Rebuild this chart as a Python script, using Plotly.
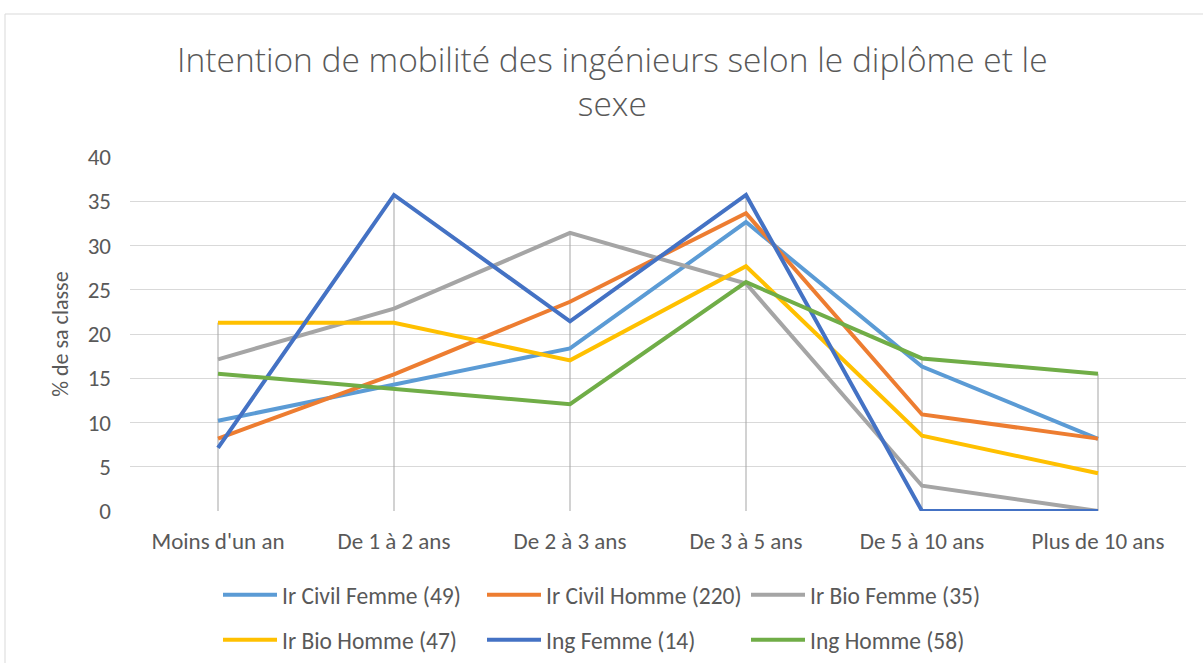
import plotly.graph_objects as go

# Categories (duration of intended mobility)
categories = ["Moins d'un an", "De 1 à 2 ans", "De 2 à 3 ans",
              "De 3 à 5 ans", "De 5 à 10 ans", "Plus de 10 ans"]

# Share of each group (% of its class)
ir_civil_femme = [10.20, 14.29, 18.37, 32.65, 16.33, 8.16]
ir_civil_homme = [8.18, 15.45, 23.64, 33.64, 10.91, 8.18]
ir_bio_femme = [17.14, 22.86, 31.43, 25.71, 2.86, 0.0]
ir_bio_homme = [21.28, 21.28, 17.02, 27.66, 8.51, 4.26]
ing_femme = [7.14, 35.71, 21.43, 35.71, 0.0, 0.0]
ing_homme = [15.52, 13.79, 12.07, 25.86, 17.24, 15.52]

series_names = ["Ir Civil Femme (49)", "Ir Civil Homme (220)", "Ir Bio Femme (35)",
                "Ir Bio Homme (47)", "Ing Femme (14)", "Ing Homme (58)"]
series_values = [ir_civil_femme, ir_civil_homme, ir_bio_femme,
                 ir_bio_homme, ing_femme, ing_homme]
series_colors = ["#5B9BD5", "#ED7D31", "#A5A5A5", "#FFC000", "#4472C4", "#70AD47"]

FONT = "Carlito, 'Liberation Sans Narrow', 'Open Sans', sans-serif"
TEXT = "#595959"

fig = go.Figure()

# Drop lines: from the axis up to the highest value of each category
drop_x, drop_y = [], []
for i, cat in enumerate(categories):
    top = max(vals[i] for vals in series_values)
    drop_x += [cat, cat, None]
    drop_y += [0, top, None]
fig.add_trace(go.Scatter(x=drop_x, y=drop_y, mode="lines",
                         line=dict(color="#A5A5A5", width=1),
                         showlegend=False, hoverinfo="skip"))

for k, (name, vals, col) in enumerate(zip(series_names, series_values, series_colors)):
    fig.add_trace(go.Scatter(
        x=categories, y=vals, name=name, mode="lines",
        line=dict(color=col, width=4),
        legend="legend" if k < 3 else "legend2",
    ))

legend_common = dict(
    orientation="h", xref="paper", yref="paper",
    xanchor="left", yanchor="middle",
    font=dict(family=FONT, size=23.5, color=TEXT),
    itemwidth=54, entrywidthmode="pixels", entrywidth=195,
    bgcolor="rgba(0,0,0,0)",
)

fig.update_layout(
    width=1203, height=663,
    margin=dict(l=130, r=17, t=157, b=152, autoexpand=False),
    paper_bgcolor="white", plot_bgcolor="white",
    title=dict(
        text="Intention de mobilité des ingénieurs selon le diplôme et le<br>sexe",
        x=0.509, xref="container", xanchor="center",
        y=1 - 72 / 663, yref="container", yanchor="middle",
        font=dict(family="'Open Sans', sans-serif", size=33.5, color=TEXT, weight=300),
    ),
    xaxis=dict(
        type="category", categoryorder="array", categoryarray=categories,
        range=[-0.5, 5.5], showgrid=False, showline=False, zeroline=False,
        ticks="", ticklabelstandoff=14, automargin=False,
        tickfont=dict(family=FONT, size=23, color=TEXT),
    ),
    yaxis=dict(
        range=[0, 40], dtick=5, showgrid=True, gridcolor="#D9D9D9", gridwidth=1,
        zeroline=False, showline=False, ticks="", ticklabelstandoff=18,
        automargin=False,
        tickfont=dict(family=FONT, size=23, color=TEXT),
        title=dict(text="% de sa classe", standoff=12,
                   font=dict(family=FONT, size=22, color=TEXT)),
    ),
    legend=dict(x=(218 - 130) / 1056, y=(511 - 595) / 354, **legend_common),
    legend2=dict(x=(218 - 130) / 1056, y=(511 - 640) / 354, **legend_common),
    shapes=[dict(type="rect", xref="paper", yref="paper",
                 x0=(5 - 130) / 1056, x1=1.1, y0=-1.0, y1=(511 - 14) / 354,
                 line=dict(color="#D9D9D9", width=1), fillcolor="rgba(0,0,0,0)",
                 layer="below")],
    showlegend=True,
)

fig.write_html("out.html")
